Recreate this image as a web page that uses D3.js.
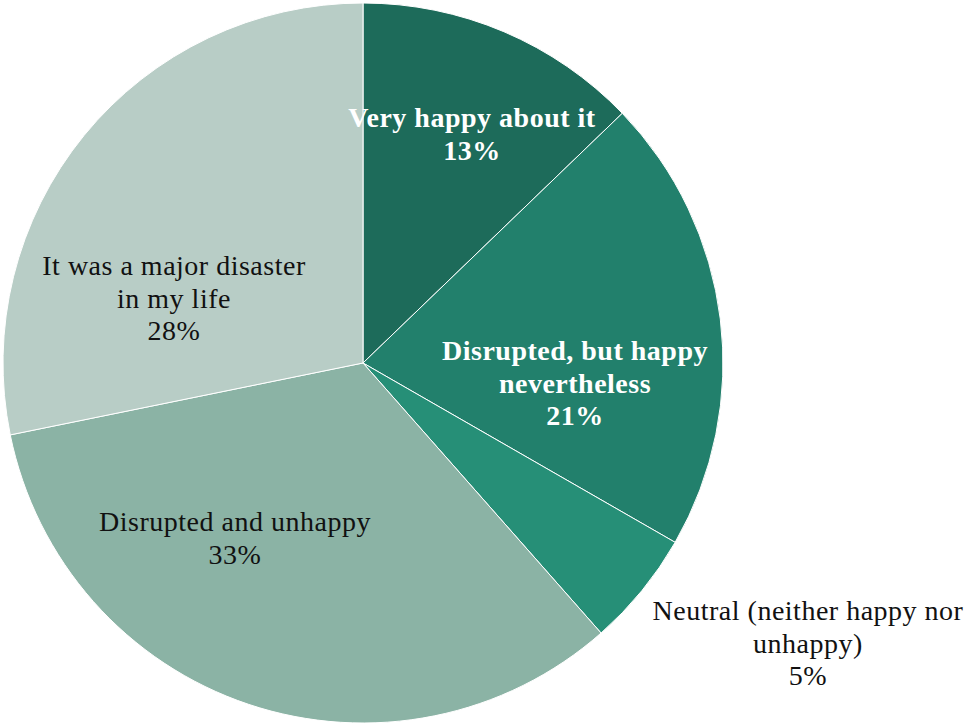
<!DOCTYPE html>
<html><head><meta charset="utf-8">
<script src="https://cdn.jsdelivr.net/npm/d3@7"></script>
<style>html,body{margin:0;padding:0;background:#fff;}svg{display:block;}</style>
</head><body>
<svg id="chart" width="969" height="723"></svg>
<script>
// Data
const categories = ["Very happy about it", "Disrupted, but happy nevertheless", "Neutral (neither happy nor unhappy)", "Disrupted and unhappy", "It was a major disaster in my life"];
const values = [12.8, 20.5, 5.2, 33.3, 28.2];
const percentLabels = ["13%", "21%", "5%", "33%", "28%"];
const labelLines = [["Very happy about it"], ["Disrupted, but happy", "nevertheless"], ["Neutral (neither happy nor", "unhappy)"], ["Disrupted and unhappy"], ["It was a major disaster", "in my life"]];

// Styling / layout
const colors = ["#1d6b5a", "#22806c", "#268f77", "#8bb3a5", "#b8cdc6"];
const textColors = ["#ffffff", "#ffffff", "#111111", "#111111", "#111111"];
const bold = [true, true, false, false, false];
const labelPos = [[472, 121], [575, 354], [808, 614], [235, 525], [174, 269]];
const lineH = 32.5;

const svg = d3.select("#chart");
const cx = 363, cy = 363, r = 360;
const g = svg.append("g").attr("transform", `translate(${cx},${cy})`);

const pie = d3.pie().sort(null).value(d => d)(values);
const arc = d3.arc().innerRadius(0).outerRadius(r);

g.selectAll("path").data(pie).join("path")
  .attr("d", arc)
  .attr("fill", (d, i) => colors[i])
  .attr("stroke", "#ffffff")
  .attr("stroke-width", 1);

const lbl = svg.append("g");
categories.forEach((c, i) => {
  const lines = labelLines[i].concat([percentLabels[i]]);
  const t = lbl.append("text")
    .attr("text-anchor", "middle")
    .attr("font-family", "'Liberation Serif', 'DejaVu Serif', serif")
    .attr("font-size", 28)
    .attr("letter-spacing", 0.5)
    .attr("font-weight", bold[i] ? "bold" : "normal")
    .attr("fill", textColors[i]);
  lines.forEach((ln, j) => {
    t.append("tspan").attr("x", labelPos[i][0]).attr("y", labelPos[i][1] + j * lineH)
      .attr("dominant-baseline", "middle").text(ln);
  });
});
</script>
</body></html>
